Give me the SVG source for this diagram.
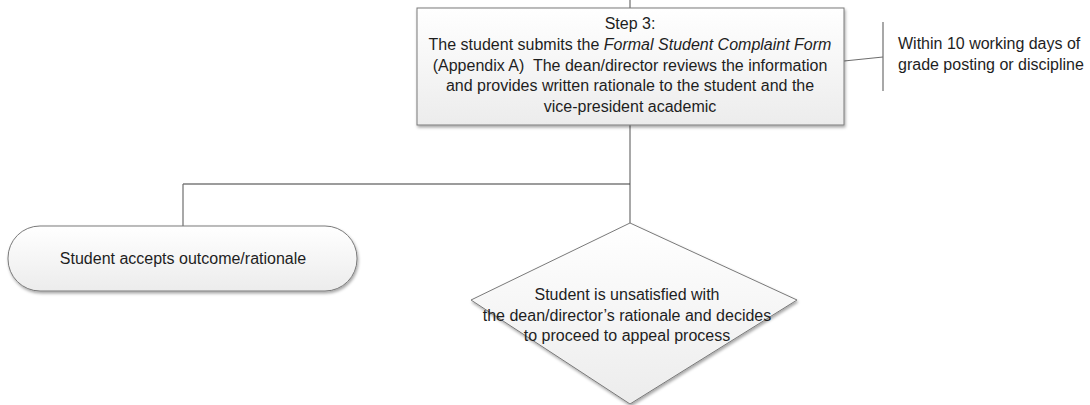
<svg xmlns="http://www.w3.org/2000/svg" width="1090" height="405" viewBox="0 0 1090 405">
<defs>
<linearGradient id="g" x1="0" y1="0" x2="0" y2="1">
<stop offset="0" stop-color="#ffffff"/>
<stop offset="1" stop-color="#ececec"/>
</linearGradient>
<filter id="sh" x="-10%" y="-10%" width="120%" height="130%">
<feDropShadow dx="1" dy="2" stdDeviation="1.5" flood-color="#000" flood-opacity="0.35"/>
</filter>
</defs>
<style>
.n{fill:url(#g);stroke:#7a7a7a;stroke-width:1;filter:url(#sh)}
.c{fill:none;stroke:#6e6e6e;stroke-width:1.2}
.h{stroke:#3a3a3a}
text{font-family:"Liberation Sans",Arial,sans-serif;font-size:16px;fill:#1e1e1e}
.m{text-anchor:middle}
</style>
<g id="connectors">
<line class="c" x1="630" y1="0" x2="630" y2="8"/>
<line class="c" x1="630" y1="125" x2="630" y2="223"/>
<line class="c h" x1="630" y1="184" x2="183" y2="184"/>
<line class="c" x1="183" y1="184" x2="183" y2="226"/>
<line class="c" x1="844" y1="61" x2="883" y2="57"/>
<line class="c" x1="883" y1="22" x2="883" y2="91"/>
</g>
<g id="step3">
<rect class="n" x="417" y="8" width="427" height="117"/>
<text class="m" x="630" y="29">Step 3:</text>
<text class="m" x="630" y="50">The student submits the <tspan font-style="italic">Formal Student Complaint Form</tspan></text>
<text class="m" x="630" y="70.5" xml:space="preserve">(Appendix A)  The dean/director reviews the information</text>
<text class="m" x="630" y="91">and provides written rationale to the student and the</text>
<text class="m" x="630" y="112">vice-president academic</text>
</g>
<g id="note">
<text x="898" y="49">Within 10 working days of</text>
<text x="898" y="70">grade posting or discipline</text>
</g>
<g id="accept">
<rect class="n" x="8" y="226" width="349" height="65" rx="32" ry="32"/>
<text class="m" x="183" y="264">Student accepts outcome/rationale</text>
</g>
<g id="unsatisfied">
<polygon class="n" points="630,223 797,300 630,404 471,300"/>
<text class="m" x="627" y="300">Student is unsatisfied with</text>
<text class="m" x="627" y="320.5">the dean/director’s rationale and decides</text>
<text class="m" x="627" y="341">to proceed to appeal process</text>
</g>
</svg>
